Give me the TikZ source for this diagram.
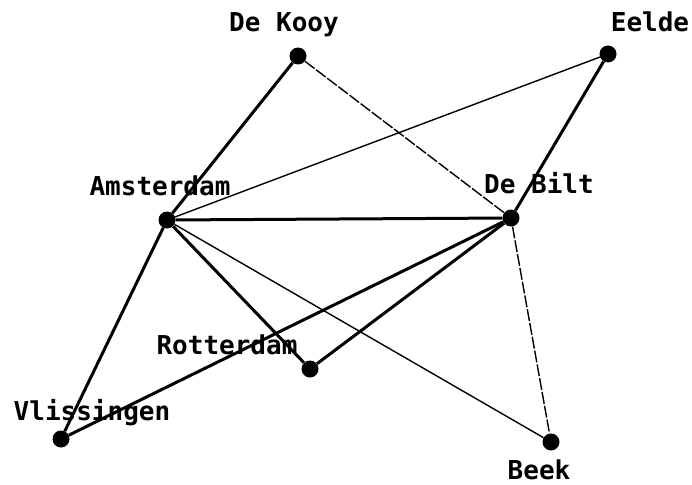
\documentclass[tikz,border=0pt]{standalone}
\usepackage{fontspec}
\setmonofont{DejaVu Sans Mono}
\usepackage{tikz}

\tikzset{
  stn/.style={circle, fill=black, inner sep=0pt, minimum size=17pt},
  lbl/.style={font=\fontsize{26}{30}\selectfont\ttfamily\bfseries, anchor=base, inner sep=0pt},
  link/.style={line width=3pt},
  weak/.style={line width=1.4pt},
  broken/.style={line width=1.4pt, dash pattern=on 12pt off 2pt}
}

\begin{document}
\begin{tikzpicture}[x=1pt, y=-1pt]
					\useasboundingbox (0,0) rectangle (692,484);
					% stations
					\node[stn] (kooy) at (298,56) {};
					\node[stn] (eelde) at (608,54) {};
					\node[stn] (adam) at (167,220) {};
					\node[stn] (bilt) at (511,218) {};
					\node[stn] (rdam) at (310,369) {};
					\node[stn] (vlis) at (61,439) {};
					\node[stn] (beek) at (551,442) {};
					
					\node[lbl] (kooyname) at (284,32) {De Kooy};
					\node[lbl] (eeldename) at (650,32) {Eelde};
					\node[lbl] (adamname) at (160,195) {Amsterdam};
					\node[lbl] (biltname) at (539,193) {De Bilt};
					\node[lbl] (rdamname) at (227,354) {Rotterdam};
					\node[lbl] (vlisname) at (92,420) {Vlissingen};
					\node[lbl] (beekname) at (539,479) {Beek};
					
					% links between stations
					\draw[link] (kooy) -- (adam);
					\draw[broken] (kooy) -- (bilt);
					\draw[weak] (eelde) -- (adam);
					\draw[link] (eelde) -- (bilt);
					\draw[link] (adam) -- (bilt);
					\draw[link] (adam) -- (vlis);
					\draw[link] (adam) -- (rdam);
					\draw[weak] (adam) -- (beek);
					\draw[link] (bilt) -- (rdam);
					\draw[link] (bilt) -- (vlis);
					\draw[broken] (bilt) -- (beek);
				\end{tikzpicture}
\end{document}
